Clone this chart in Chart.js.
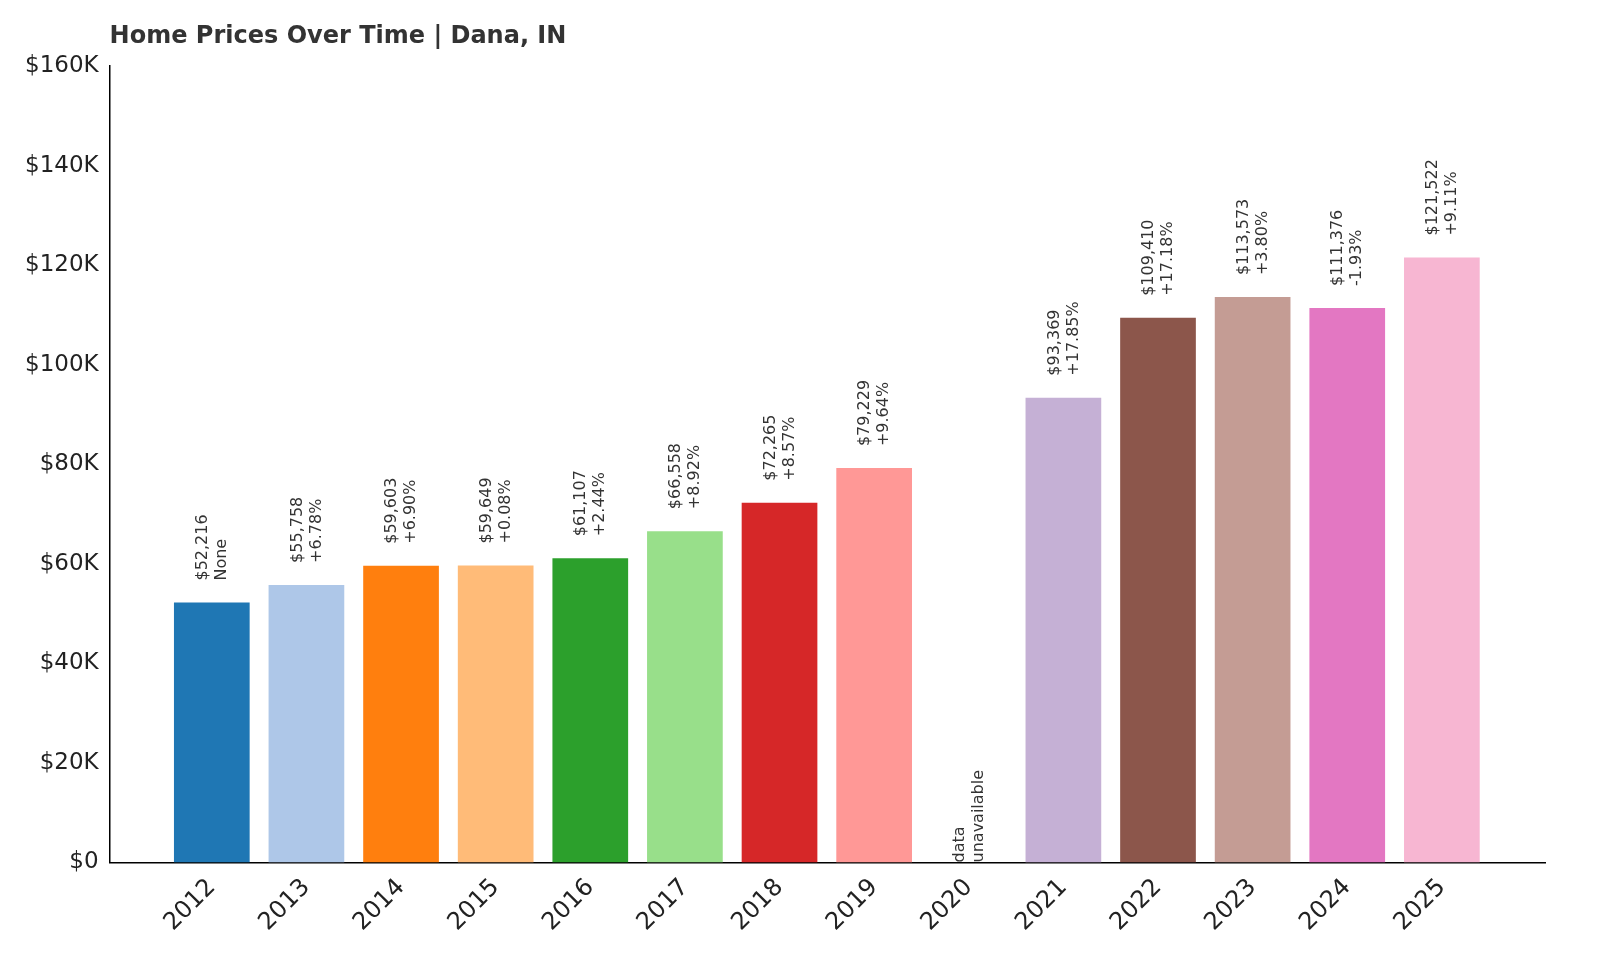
<!DOCTYPE html>
<html>
<head>
<meta charset="utf-8">
<script src="https://cdn.jsdelivr.net/npm/chart.js@4"></script>
<style>body{margin:0;background:#fff}#wrap{width:1600px;height:960px}</style>
</head>
<body>
<div id="wrap"><canvas id="priceChart"></canvas></div>
<script>
const years = [2012, 2013, 2014, 2015, 2016, 2017, 2018, 2019, 2020, 2021, 2022, 2023, 2024, 2025];
const prices = [52216, 55758, 59603, 59649, 61107, 66558, 72265, 79229, null, 93369, 109410, 113573, 111376, 121522];
const changes = ['None', '+6.78%', '+6.90%', '+0.08%', '+2.44%', '+8.92%', '+8.57%', '+9.64%', null, '+17.85%', '+17.18%', '+3.80%', '-1.93%', '+9.11%'];
const colors = ['#1f77b4', '#aec7e8', '#ff7f0e', '#ffbb78', '#2ca02c', '#98df8a', '#d62728', '#ff9896', '#9467bd', '#c5b0d5', '#8c564b', '#c49c94', '#e377c2', '#f7b6d2'];
const yTicks = [0, 20000, 40000, 60000, 80000, 100000, 120000, 140000, 160000];

const font = 'DejaVu Sans';

const labelPlugin = {
  id: 'labels',
  afterDatasetsDraw(chart) {
    const ctx = chart.ctx, xs = chart.scales.x, ys = chart.scales.y;
    ctx.save();
    ctx.fillStyle = '#333';
    ctx.font = '16px "' + font + '"';
    ctx.textAlign = 'left';
    ctx.textBaseline = 'middle';
    years.forEach((yr, i) => {
      const x = xs.getPixelForValue(yr);
      let lines, base;
      if (prices[i] == null) {
        lines = ['data', 'unavailable'];
        base = ys.getPixelForValue(0);
      } else {
        lines = ['$' + prices[i].toLocaleString('en-US'), changes[i]];
        base = ys.getPixelForValue(prices[i]) - 22;
      }
      lines.forEach((t, k) => {
        ctx.save();
        ctx.translate(x - 9 + k * 19, base);
        ctx.rotate(-Math.PI / 2);
        ctx.fillText(t, 0, 0);
        ctx.restore();
      });
    });
    ctx.font = 'bold 24px "' + font + '"';
    ctx.fillStyle = '#333';
    ctx.textBaseline = 'alphabetic';
    ctx.fillText('Home Prices Over Time | Dana, IN', chart.chartArea.left, 43);
    ctx.restore();
  }
};

new Chart(document.getElementById('priceChart'), {
  type: 'bar',
  data: {
    datasets: [{
      data: years.map((y, i) => ({ x: y, y: prices[i] })),
      backgroundColor: colors,
      barPercentage: 0.8,
      categoryPercentage: 1
    }]
  },
  options: {
    responsive: true,
    maintainAspectRatio: false,
    animation: false,
    layout: { padding: { top: 66, right: 55, left: 22, bottom: 20 } },
    plugins: { legend: { display: false }, tooltip: { enabled: false } },
    scales: {
      x: {
        type: 'linear',
        offset: false,
        min: 2010.92,
        max: 2026.09,
        afterBuildTicks: axis => { axis.ticks = years.map(v => ({ value: v })); },
        grid: { display: false },
        border: { color: '#000', width: 1.5 },
        ticks: { color: '#222', font: { family: font, size: 24 }, maxRotation: 45, minRotation: 45, autoSkip: false, callback: v => String(v) }
      },
      y: {
        min: 0,
        max: 160000,
        afterBuildTicks: axis => { axis.ticks = yTicks.map(v => ({ value: v })); },
        grid: { display: false },
        border: { color: '#000', width: 1.5 },
        ticks: { color: '#222', font: { family: font, size: 23 }, callback: v => '$' + (v === 0 ? '0' : v / 1000 + 'K') }
      }
    }
  },
  plugins: [labelPlugin]
});
</script>
</body>
</html>
